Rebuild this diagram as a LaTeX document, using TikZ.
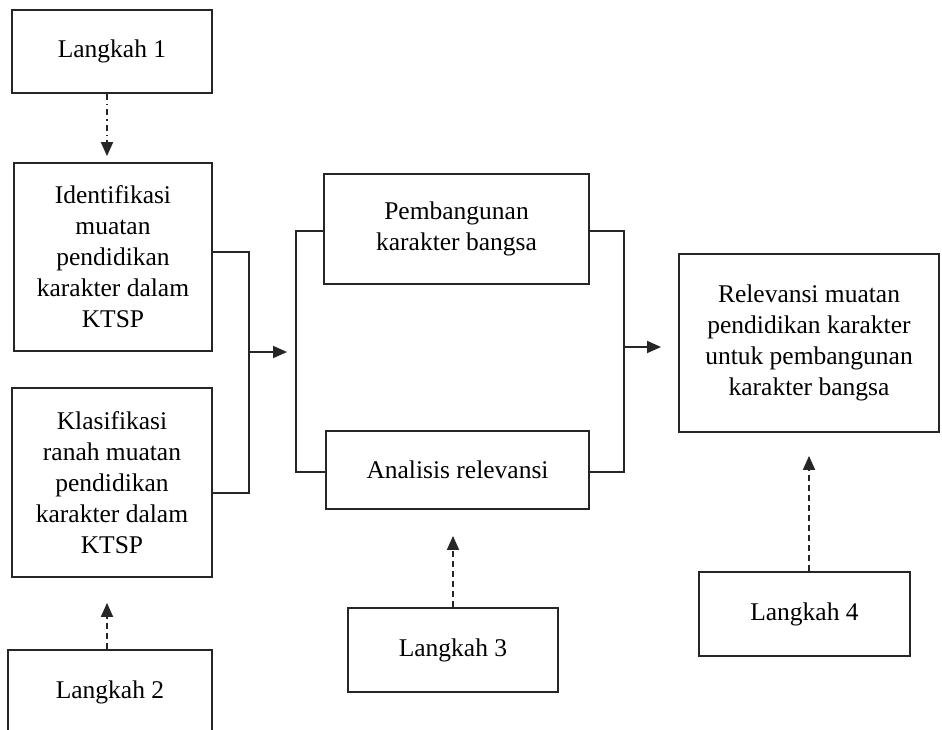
\documentclass[tikz,border=0pt]{standalone}
\usepackage{fontspec}
\setmainfont{Liberation Serif}
\usetikzlibrary{arrows.meta}
\begin{document}
\begin{tikzpicture}[x=1pt,y=-1pt,
  box/.style={draw=black!85, line width=1.8pt, inner sep=0pt, align=center,
    font=\fontsize{25.5}{31}\selectfont, text=black},
  conn/.style={draw=black!85, line width=1.8pt},
  tip/.style={-{Triangle[width=12pt,length=14pt]}},
  dsh/.style={conn, tip, dash pattern=on 6pt off 4pt},
  dshdot/.style={conn, tip, dash pattern=on 6pt off 4pt on 1.5pt off 4pt}]
\useasboundingbox (0,0) rectangle (942,729);
\clip (0,0) rectangle (942,729);
\fill[white] (0,0) rectangle (942,729);

\node[box, minimum width=200pt, minimum height=83pt] (L1) at (112,51.5) {Langkah 1};
\node[box, minimum width=198pt, minimum height=188pt] (Iden) at (113,257)
  {Identifikasi\\muatan\\pendidikan\\karakter dalam\\KTSP};
\node[box, minimum width=200pt, minimum height=189pt] (Klas) at (112,482.5)
  {Klasifikasi\\ranah muatan\\pendidikan\\karakter dalam\\KTSP};
\node[box, minimum width=204pt, minimum height=84pt] (L2) at (110,692) {Langkah 2};

\node[box, minimum width=265pt, minimum height=110pt] (Pemb) at (456.5,229)
  {Pembangunan\\karakter bangsa};
\node[box, minimum width=263pt, minimum height=78pt] (Anal) at (457.5,470) {Analisis relevansi};
\node[box, minimum width=210pt, minimum height=84pt] (L3) at (453,650) {Langkah 3};

\node[box, minimum width=260pt, minimum height=178pt] (Rel) at (809,343)
  {\raisebox{5pt}{\begin{tabular}{@{}c@{}}Relevansi muatan\\pendidikan karakter\\untuk pembangunan\\karakter bangsa\end{tabular}}};
\node[box, minimum width=211pt, minimum height=84pt] (L4) at (804.5,614) {Langkah 4};

% left bracket
\coordinate (lbus) at (249,352);
\coordinate (lin) at (287,352);
\draw[conn] ([yshift=5pt]Iden.east) -| (lbus) |- ([yshift=-10.5pt]Klas.east);
\draw[conn, tip] (lbus) -- (lin);

% middle bracket
\coordinate (mbus) at (296,350);
\draw[conn] ([yshift=-2pt]Pemb.west) -| (mbus) |- ([yshift=-2pt]Anal.west);
\coordinate (rbus) at (624,347);
\coordinate (rin) at (661,347);
\draw[conn] ([yshift=-2pt]Pemb.east) -| (rbus) |- ([yshift=-2pt]Anal.east);
\draw[conn, tip] (rbus) -- (rin);

% dashed step arrows
\draw[dshdot] ([xshift=-5pt]L1.south) -- ([xshift=-6pt,yshift=6pt]Iden.north);
\draw[dsh] ([xshift=-3pt]L2.north) -- ([xshift=-5pt,yshift=-25pt]Klas.south);
\draw[dsh] (L3.north) -- ([xshift=-4.5pt,yshift=-26pt]Anal.south);
\draw[dsh] ([xshift=4.5pt]L4.north) -- ([yshift=-23pt]Rel.south);
\end{tikzpicture}
\end{document}
